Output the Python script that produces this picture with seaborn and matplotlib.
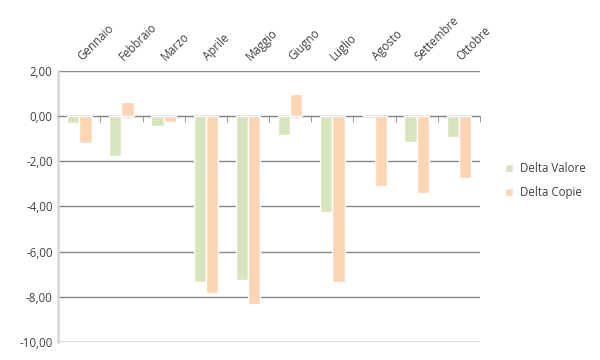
import numpy as np
import pandas as pd
import matplotlib
matplotlib.use("Agg")
import matplotlib.pyplot as plt
import seaborn as sns

# dati
mesi = ["Gennaio", "Febbraio", "Marzo", "Aprile", "Maggio", "Giugno",
        "Luglio", "Agosto", "Settembre", "Ottobre"]
delta_valore = [-0.31, -1.77, -0.43, -7.33, -7.24, -0.84, -4.23, 0.0, -1.15, -0.92]
delta_copie = [-1.19, 0.63, -0.25, -7.85, -8.32, 0.97, -7.33, -3.08, -3.39, -2.74]
serie = ["Delta Valore", "Delta Copie"]
colori = ["#d7e4bd", "#fcd5b5"]
yticks = [2, 0, -2, -4, -6, -8, -10]

df = pd.DataFrame({
    "mese": mesi * 2,
    "valore": delta_valore + delta_copie,
    "serie": [serie[0]] * len(mesi) + [serie[1]] * len(mesi),
})

sns.set_style("white")
plt.rcParams["font.family"] = ["Open Sans", "DejaVu Sans"]

fig = plt.figure(figsize=(6, 3.6), dpi=100)
ax = fig.add_axes([0.097, 0.05, 0.703, 0.753])

sns.barplot(data=df, x="mese", y="valore", hue="serie", palette=colori,
            width=0.58, saturation=1, ax=ax, zorder=3)

# spine prima delle etichette (set_position ricrea i tick)
ax.spines["bottom"].set_position(("data", 0))
ax.spines["bottom"].set_color("#868686")
ax.spines["left"].set_color("#d9d9d9")
ax.spines["left"].set_linewidth(2)
ax.spines["top"].set_visible(False)
ax.spines["right"].set_visible(False)

ax.set_ylim(-10, 2)
ax.set_xlim(-0.5, len(mesi) - 0.5)
ax.set_yticks(yticks)
ax.set_yticklabels([f"{v:.2f}".replace(".", ",") for v in yticks], fontsize=8.3, color="#404040")
ax.yaxis.grid(True, color="#868686", linewidth=1)
ax.set_axisbelow(True)
ax.axhline(-10, color="#d9d9d9", linewidth=2, zorder=2)

# etichette in alto
ax.tick_params(axis="x", which="major", bottom=False, top=False,
               labelbottom=False, labeltop=True, length=0, pad=9)
ax.set_xticks(range(len(mesi)), labels=mesi, rotation=45, ha="left",
              va="center", rotation_mode="anchor", fontsize=8.3, color="#404040")

ax.set_xticks(np.arange(-0.5, len(mesi), 1), minor=True)
ax.tick_params(axis="x", which="minor", bottom=True, top=False,
               length=4, direction="out", color="#868686")
ax.tick_params(axis="y", length=0, pad=4)

ax.set_xlabel("")
ax.set_ylabel("")

leg = ax.legend(loc="center left", bbox_to_anchor=(1.035, 0.595), frameon=False,
                fontsize=8.3, handlelength=0.7, handleheight=0.7,
                labelspacing=1.0, handletextpad=0.6)
for t in leg.get_texts():
    t.set_color("#404040")

plt.savefig("out.png")
